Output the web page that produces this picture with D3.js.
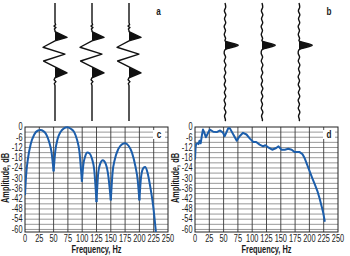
<!DOCTYPE html>
<html>
<head>
<meta charset="utf-8">
<script src="https://cdn.jsdelivr.net/npm/d3@7"></script>
<style>
  body { margin: 0; background: #fff; }
  svg { display: block; }
  text { font-family: "Liberation Sans", Arial, sans-serif; fill: #1a1a1a; }
</style>
</head>
<body>
<div id="chart"></div>
<script>
// seismic traces (time sample, normalised amplitude)
const timeA = [0, 20, 22, 23.5, 25, 26.5, 28, 29, 35, 38.5, 45, 52, 59, 65, 71, 76, 78, 80, 82, 84, 120];
const ampA = [0, 0, 0.05, -0.08, 0.08, -0.05, 0, 0, 1.0, 0, -1.0, 0.83, -0.95, 0, 1.0, 0, -0.08, 0.08, -0.06, 0, 0];

const timeB = [0, 4, 8, 12, 16, 20, 24, 28, 32, 36, 38.5, 43, 47.5, 51, 55, 59, 63, 67, 71, 75, 79, 83, 87, 91, 95, 99,
  103, 107, 111, 115, 119, 120];
const ampB = [0, 0.06, -0.05, 0.07, -0.04, 0.06, -0.07, 0.04, -0.06, 0.05, 0, 1.1, 0, -0.07, 0.05, -0.06, 0.07, -0.04,
  0.06, -0.07, 0.04, -0.06, 0.07, -0.05, 0.06, -0.07, 0.04, -0.06, 0.07, -0.04, 0.04, 0];

// amplitude spectra
const freqC = [0, 2, 5, 10, 16, 22, 27, 32, 37, 42, 46.5, 50,
  53, 57, 62, 68, 74, 80, 86, 91, 95, 99.5,
  102, 105, 109, 113, 117, 121, 125,
  128, 131, 136, 141, 145, 150,
  153, 157, 163, 170, 175, 181, 187, 193, 197, 200,
  203, 207, 210, 214, 219, 224, 229];
const ampC = [-40, -28, -19, -10, -4.5, -2.2, -1.8, -2.4, -4.2, -8.5, -15, -26,
  -14, -7, -3, -0.8, -0.2, -1, -3, -7.5, -14, -32,
  -22, -17.5, -15, -15.5, -18.5, -25, -44,
  -27, -22, -19.5, -21.5, -27, -43,
  -27, -19, -13, -10, -9.5, -11, -15, -23, -31, -43,
  -29, -24, -23.5, -26.5, -35, -46, -62];

const freqD = [0, 1, 2, 4, 6, 8, 10, 12, 14, 16, 19, 22, 26, 32, 38, 44, 49, 52, 58, 61, 67, 73, 78, 84, 90, 96, 102, 107,
  113, 119, 123, 128, 135, 142, 146, 151, 157, 163, 169, 174, 183, 188, 192, 196, 200, 205, 210, 214, 218, 224, 227];
const ampD = [-19, -12, -10, -9.5, -10, -8, -9.5, -5, -1.5, -3, -6, -4, -1.5, -2.8, -3, -2, -3.4, -5.4, -0.8, -0.8, -4.4, -8,
  -5.4, -3.4, -4.4, -6.8, -8.8, -8.8, -10.3, -11.3, -10.7, -11.9, -13.3, -12.3, -11.3, -13.3, -13.3, -12.7, -13.3, -14.7,
  -14.7, -16, -18.5, -22, -25.5, -30, -34, -37.5, -42, -50, -55.5];

const xTicks = [0, 25, 50, 75, 100, 125, 150, 175, 200, 225, 250];
const yTicks = [0, -6, -12, -18, -24, -30, -36, -42, -48, -54, -60];

const width = 350,
  height = 256;
const squeeze = 0.74; // no condensed font installed, so squash horizontally

const svg = d3.select("#chart").append("svg").attr("width", width).attr("height", height);

function label(g, x, y, str, size, anchor, bold, rotate) {
  return g.append("text")
    .attr("transform", `translate(${x},${y})${rotate ? " rotate(-90)" : ""} scale(${squeeze},1)`)
    .attr("text-anchor", anchor)
    .attr("font-size", size)
    .attr("font-weight", bold ? "bold" : "normal")
    .text(str);
}

// ---- traces ----
const tY = d3.scaleLinear().domain([0, 120]).range([3, 121]);
const aX = d3.scaleLinear().domain([-1, 1]).range([-12, 12]);

function traces(times, amps, positions, letter, labelX, curve) {
  const pts = times.map((t, i) => ({ t, a: amps[i] }));

  // only the big positive lobes are blacked in
  const runs = [];
  let cur = [];
  pts.forEach(p => {
    if (p.a >= 0) cur.push(p);
    else {
      if (cur.length) runs.push(cur);
      cur = [];
    }
  });
  if (cur.length) runs.push(cur);
  const lobes = runs.filter(r => d3.max(r, p => p.a) >= 0.9);

  positions.forEach(x0 => {
    const g = svg.append("g").attr("transform", `translate(${x0},0)`);
    const area = d3.area().y(d => tY(d.t)).x0(aX(0)).x1(d => aX(d.a));
    g.selectAll(".lobe").data(lobes).join("path").attr("class", "lobe").attr("d", area).attr("fill", "#111");
    g.append("path")
      .attr("d", d3.line().x(d => aX(d.a)).y(d => tY(d.t)).curve(curve)(pts))
      .attr("fill", "none")
      .attr("stroke", "#111")
      .attr("stroke-width", 1.4)
      .attr("stroke-linejoin", "round");
  });

  label(svg, labelX, 15, letter, 11, "middle", true);
}

traces(timeA, ampA, [55, 92, 129], "a", 158.5, d3.curveLinear);
traces(timeB, ampB, [225, 262, 299], "b", 329, d3.curveCatmullRom);

// ---- spectra ----
function spectrum(left, freq, amp, letter, split) {
  const x = d3.scaleLinear().domain([0, 250]).range([left, left + 143]);
  const y = d3.scaleLinear().domain([-61.5, 0]).range([232, 127]);
  const g = svg.append("g");

  g.selectAll(".hgrid")
    .data(d3.range(-60, 0, 3))
    .join("line")
    .attr("x1", x(0))
    .attr("x2", x(250))
    .attr("y1", d => y(d))
    .attr("y2", d => y(d))
    .attr("stroke", "#8c8c8c")
    .attr("stroke-width", 0.9);

  g.selectAll(".vgrid")
    .data(xTicks.slice(1, -1))
    .join("line")
    .attr("x1", d => x(d))
    .attr("x2", d => x(d))
    .attr("y1", y(0))
    .attr("y2", y(-61.5))
    .attr("stroke", "#3a3a3a")
    .attr("stroke-width", 0.9);

  g.append("rect")
    .attr("x", x(0))
    .attr("y", y(0))
    .attr("width", x(250) - x(0))
    .attr("height", y(-61.5) - y(0))
    .attr("fill", "none")
    .attr("stroke", "#222")
    .attr("stroke-width", 1);

  // letter box
  g.append("rect")
    .attr("x", x(250) - 15)
    .attr("y", y(0) + 3)
    .attr("width", 12)
    .attr("height", 9)
    .attr("fill", "#fff");
  label(g, x(250) - 9, y(0) + 11, letter, 11, "middle", true);

  // curve
  const pts = freq.map((f, i) => ({ f, a: amp[i] }));
  let segs = [pts];
  if (split) {
    // break at the notches so they stay sharp
    segs = [];
    let start = 0;
    for (let i = 1; i < pts.length - 1; i++) {
      if (pts[i].a < pts[i - 1].a && pts[i].a < pts[i + 1].a) {
        segs.push(pts.slice(start, i + 1));
        start = i;
      }
    }
    segs.push(pts.slice(start));
  }

  const clipId = "clip-" + letter;
  svg.append("clipPath").attr("id", clipId)
    .append("rect")
    .attr("x", x(0))
    .attr("y", y(0) - 2)
    .attr("width", x(250) - x(0))
    .attr("height", y(-61.5) - y(0) + 2);

  const line = d3.line().x(d => x(d.f)).y(d => y(d.a)).curve(split ? d3.curveMonotoneX : d3.curveLinear);
  g.append("g")
    .attr("clip-path", `url(#${clipId})`)
    .selectAll("path")
    .data(segs)
    .join("path")
    .attr("d", line)
    .attr("fill", "none")
    .attr("stroke", "#1c5eab")
    .attr("stroke-width", 2)
    .attr("stroke-linejoin", "round");

  // tick labels
  yTicks.forEach(d => label(g, x(0) - 2.5, y(d) + 3.3, d, 10, "end"));
  xTicks.forEach(d => label(g, x(d), 242, d, 10, "middle"));

  label(g, x(125), 253, "Frequency, Hz", 10, "middle", true);
  label(g, left - 16, 178, "Amplitude, dB", 10, "middle", true, true);
}

spectrum(25, freqC, ampC, "c", true);
spectrum(195, freqD, ampD, "d", false);
</script>
</body>
</html>
